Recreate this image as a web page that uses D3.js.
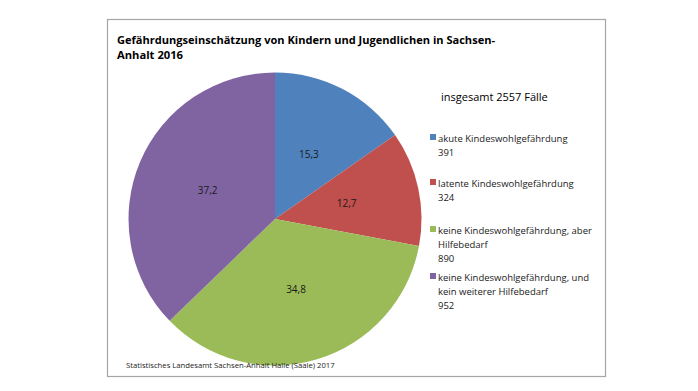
<!DOCTYPE html>
<html>
<head>
<meta charset="utf-8">
<script src="https://cdn.jsdelivr.net/npm/d3@7"></script>
<style>
  body { margin: 0; background: #fff; }
  svg text { font-family: "Open Sans", "Liberation Sans", sans-serif; }
</style>
</head>
<body>
<div id="chart"></div>
<script>
var categories = ["akute Kindeswohlgefährdung",
                  "latente Kindeswohlgefährdung",
                  "keine Kindeswohlgefährdung, aber Hilfebedarf",
                  "keine Kindeswohlgefährdung, und kein weiterer Hilfebedarf"];
// legend lines as wrapped in the picture
var legendLines = [["akute Kindeswohlgefährdung"],
                   ["latente Kindeswohlgefährdung"],
                   ["keine Kindeswohlgefährdung, aber", "Hilfebedarf"],
                   ["keine Kindeswohlgefährdung, und", "kein weiterer Hilfebedarf"]];
var cases = [391, 324, 890, 952];
var colors = ["#4F81BD", "#C0504D", "#9BBB59", "#8064A2"];
var titleLines = ["Gefährdungseinschätzung von Kindern und Jugendlichen in Sachsen-", "Anhalt 2016"];
var source = "Statistisches Landesamt Sachsen-Anhalt Halle (Saale) 2017";

var width = 698, height = 391;
var total = d3.sum(cases);

var svg = d3.select("#chart")
    .append("svg")
    .attr("width", width)
    .attr("height", height);

// chart frame
svg.append("rect")
    .attr("x", 107.5)
    .attr("y", 19.5)
    .attr("width", 498)
    .attr("height", 357)
    .attr("fill", "#fff")
    .attr("stroke", "#a6a6a6")
    .attr("stroke-width", 1.2);

// title
svg.append("g").selectAll("text")
    .data(titleLines)
    .enter()
    .append("text")
    .attr("x", 117)
    .attr("y", function(d, i) { return 44 + i * 15; })
    .attr("font-size", "11px")
    .attr("font-weight", "bold")
    .attr("fill", "#000")
    .attr("textLength", function(d, i) { return i == 0 ? 378 : 66; })
    .attr("lengthAdjust", "spacingAndGlyphs")
    .text(function(d) { return d; });

// pie
var radius = 146.5;
var pie = d3.pie().sort(null).value(function(d) { return d; });
var arc = d3.arc().innerRadius(0).outerRadius(radius);
var labelArc = d3.arc().innerRadius(radius * 0.5).outerRadius(radius * 0.5);

var g = svg.append("g")
    .attr("transform", "translate(275,219)");

var slices = g.selectAll(".slice")
    .data(pie(cases))
    .enter()
    .append("g")
    .attr("class", "slice");

slices.append("path")
    .attr("d", arc)
    .attr("fill", function(d, i) { return colors[i]; });

slices.append("text")
    .attr("transform", function(d) { return "translate(" + labelArc.centroid(d) + ")"; })
    .attr("dy", "0.35em")
    .attr("text-anchor", "middle")
    .attr("font-size", "10px")
    .attr("fill", "#1a1a1a")
    .text(function(d) { return (d.value / total * 100).toFixed(1).replace(".", ","); });

// total
svg.append("text")
    .attr("x", 441)
    .attr("y", 101)
    .attr("font-size", "11px")
    .attr("fill", "#000")
    .text("insgesamt " + total + " Fälle");

// legend
var legendTop = [142, 187, 234, 281];
var lineH = 14;
var legend = svg.append("g").selectAll(".legend")
    .data(categories)
    .enter()
    .append("g")
    .attr("class", "legend")
    .attr("transform", function(d, i) { return "translate(430," + legendTop[i] + ")"; });

legend.append("rect")
    .attr("x", 0)
    .attr("y", -8)
    .attr("width", 6)
    .attr("height", 6)
    .attr("fill", function(d, i) { return colors[i]; });

legend.each(function(d, i) {
    var lines = legendLines[i].concat([String(cases[i])]);
    d3.select(this).selectAll("text")
        .data(lines)
        .enter()
        .append("text")
        .attr("x", 8)
        .attr("y", function(t, j) { return j * lineH; })
        .attr("font-size", "9.5px")
        .attr("fill", "#1a1a1a")
        .text(function(t) { return t; });
});

// source
svg.append("text")
    .attr("x", 126)
    .attr("y", 368)
    .attr("font-size", "7.7px")
    .attr("fill", "#1a1a1a")
    .text(source);
</script>
</body>
</html>
